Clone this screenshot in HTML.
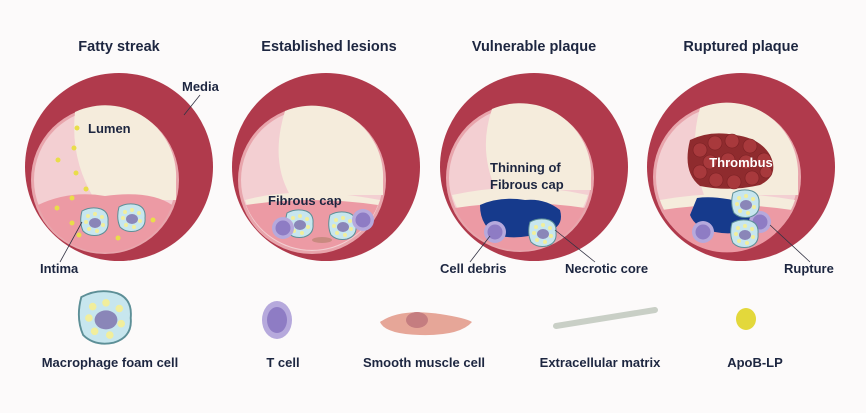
<!DOCTYPE html>
<html><head><meta charset="utf-8"><style>
html,body{margin:0;padding:0;background:#fcfafa;overflow:hidden;width:866px;height:413px}
svg{display:block}
text{font-family:"Liberation Sans",sans-serif;fill:#1d2640;font-weight:bold}
</style></head><body>
<svg width="866" height="413" viewBox="0 0 866 413" xmlns="http://www.w3.org/2000/svg">
<rect width="866" height="413" fill="#fcfafa"/>
<defs>
<g id="foam">
<path d="M-13,-11 Q-4,-16 6,-13 Q14,-10 13,0 Q14,10 4,13 Q-6,15 -12,9 Q-16,0 -13,-11Z" fill="#c7e6ee" stroke="#5d8f97" stroke-width="1"/>
<ellipse cx="0" cy="1" rx="6" ry="5" fill="#8a86b8"/>
<circle cx="-7" cy="-6" r="2" fill="#f1ee9c"/><circle cx="0" cy="-8" r="2" fill="#f1ee9c"/><circle cx="7" cy="-5" r="2" fill="#f1ee9c"/><circle cx="8" cy="3" r="2" fill="#f1ee9c"/><circle cx="2" cy="9" r="2" fill="#f1ee9c"/><circle cx="-6" cy="7" r="2" fill="#f1ee9c"/><circle cx="-9" cy="0" r="2" fill="#f1ee9c"/>
</g>
<g id="tcell"><circle r="11" fill="#b6a9dc"/><circle r="7.5" fill="#8e7cc4"/></g>
</defs>

<text x="119" y="51" font-size="14.5" text-anchor="middle">Fatty streak</text>
<text x="329" y="51" font-size="14.5" text-anchor="middle">Established lesions</text>
<text x="534" y="51" font-size="14.5" text-anchor="middle">Vulnerable plaque</text>
<text x="741" y="51" font-size="14.5" text-anchor="middle">Ruptured plaque</text>

<!-- artery 1 -->
<circle cx="119" cy="167" r="94" fill="#b03a4c"/>
<circle cx="105" cy="180" r="74" fill="#e8a5ac"/>
<circle cx="105" cy="180" r="71" fill="#f3cfd2"/>
<path d="M75,112 A71,71 0 0 1 176,180 L176,200 L95,200 Q70,160 75,112Z" fill="#f5ecdc"/>
<path d="M38,205 Q70,190 105,196 Q150,190 172,205 A71,71 0 0 1 38,205Z" fill="#ec9aa4"/>
<use href="#foam" x="95" y="222"/><use href="#foam" x="132" y="218"/>
<g fill="#e9dd4a"><circle cx="77" cy="128" r="2.5"/><circle cx="74" cy="148" r="2.5"/><circle cx="58" cy="160" r="2.5"/><circle cx="76" cy="173" r="2.5"/><circle cx="86" cy="189" r="2.5"/><circle cx="72" cy="198" r="2.5"/><circle cx="57" cy="208" r="2.5"/><circle cx="72" cy="223" r="2.5"/><circle cx="79" cy="235" r="2.5"/><circle cx="118" cy="238" r="2.5"/><circle cx="153" cy="220" r="2.5"/></g>
<text x="88" y="133" font-size="13">Lumen</text>
<text x="182" y="91" font-size="13">Media</text>
<line x1="200" y1="95" x2="184" y2="115" stroke="#334" stroke-width=".8"/>
<text x="40" y="273" font-size="13">Intima</text>
<line x1="60" y1="262" x2="82" y2="222" stroke="#334" stroke-width=".8"/>

<!-- artery 2 -->
<circle cx="326" cy="167" r="94" fill="#b03a4c"/>
<circle cx="312" cy="180" r="74" fill="#e8a5ac"/>
<circle cx="312" cy="180" r="71" fill="#f3cfd2"/>
<path d="M285,111 A71,71 0 0 1 383,180 L383,195 L290,195 Q270,160 285,111Z" fill="#f5ecdc"/>
<path d="M245,200 Q300,185 380,200 A71,71 0 0 1 245,200Z" fill="#f5ecdc"/>
<path d="M246,205 Q310,195 378,205 A71,71 0 0 1 246,205Z" fill="#ec9aa4"/>
<use href="#foam" x="300" y="224"/><use href="#foam" x="343" y="226"/>
<use href="#tcell" x="283" y="228"/><use href="#tcell" x="363" y="220"/>
<ellipse cx="322" cy="240" rx="10" ry="3" fill="#c98a80"/>
<text x="268" y="205" font-size="13">Fibrous cap</text>

<!-- artery 3 -->
<circle cx="534" cy="167" r="94" fill="#b03a4c"/>
<circle cx="520" cy="178" r="74" fill="#e8a5ac"/>
<circle cx="520" cy="178" r="71" fill="#f3cfd2"/>
<path d="M492,109 A71,71 0 0 1 591,178 L591,190 L496,190 Q478,150 492,109Z" fill="#f5ecdc"/>
<path d="M452,195 Q520,180 588,195 A71,71 0 0 1 452,195Z" fill="#f5ecdc"/>
<path d="M455,208 Q520,198 585,208 A71,71 0 0 1 455,208Z" fill="#ec9aa4"/>
<path d="M480,205 Q500,196 525,200 Q545,198 560,210 Q565,228 545,232 Q520,240 500,236 Q480,228 480,205Z" fill="#163a8c"/>
<use href="#tcell" x="495" y="232"/><use href="#foam" x="543" y="233"/>
<text x="490" y="172" font-size="13">Thinning of</text>
<text x="490" y="189" font-size="13">Fibrous cap</text>
<text x="440" y="273" font-size="13">Cell debris</text>
<line x1="470" y1="262" x2="490" y2="236" stroke="#334" stroke-width=".8"/>
<text x="565" y="273" font-size="13">Necrotic core</text>
<line x1="595" y1="262" x2="555" y2="230" stroke="#334" stroke-width=".8"/>

<!-- artery 4 -->
<circle cx="741" cy="167" r="94" fill="#b03a4c"/>
<circle cx="727" cy="177" r="74" fill="#e8a5ac"/>
<circle cx="727" cy="177" r="71" fill="#f3cfd2"/>
<path d="M700,108 A71,71 0 0 1 798,177 L798,195 L704,195 Q688,150 700,108Z" fill="#f5ecdc"/>
<path d="M660,200 Q727,188 795,200 A71,71 0 0 1 660,200Z" fill="#f5ecdc"/>
<path d="M662,210 Q727,200 792,210 A71,71 0 0 1 662,210Z" fill="#ec9aa4"/>
<path d="M690,140 Q710,130 735,135 Q760,138 770,155 Q780,175 760,185 Q730,192 700,186 Q682,172 690,140Z" fill="#8f2b2e"/>
<g fill="#a8393c" stroke="#7a2024" stroke-width=".6">
<circle cx="700" cy="150" r="7"/><circle cx="715" cy="143" r="7"/><circle cx="732" cy="141" r="7"/><circle cx="750" cy="146" r="7"/><circle cx="764" cy="160" r="7"/><circle cx="700" cy="172" r="7"/><circle cx="716" cy="180" r="7"/><circle cx="734" cy="182" r="7"/><circle cx="752" cy="178" r="7"/><circle cx="766" cy="172" r="6"/>
<circle cx="710" cy="162" r="7"/><circle cx="728" cy="160" r="7"/><circle cx="746" cy="162" r="7"/>
</g>
<path d="M697,198 Q720,195 750,205 Q760,215 752,228 Q735,236 715,232 Q695,228 690,215Z" fill="#163a8c"/>
<use href="#tcell" x="703" y="232"/><use href="#tcell" x="760" y="222"/><use href="#foam" x="746" y="204"/><use href="#foam" x="745" y="234"/>
<text x="741" y="167" font-size="13" text-anchor="middle" style="fill:#fff">Thrombus</text>
<text x="784" y="273" font-size="13">Rupture</text>
<line x1="810" y1="262" x2="770" y2="225" stroke="#334" stroke-width=".8"/>

<!-- legend -->
<g transform="translate(106 318) scale(1.9)"><use href="#foam"/></g>
<ellipse cx="277" cy="320" rx="15" ry="19" fill="#b6a9dc"/>
<ellipse cx="277" cy="320" rx="10" ry="13" fill="#8e7cc4"/>
<path d="M380,322 Q400,308 440,314 Q466,318 472,322 Q460,336 420,335 Q385,334 380,322Z" fill="#e6a698"/>
<ellipse cx="417" cy="320" rx="11" ry="8" fill="#c57d80"/>
<line x1="556" y1="326" x2="655" y2="310" stroke="#c9cfc6" stroke-width="6" stroke-linecap="round"/>
<ellipse cx="746" cy="319" rx="10" ry="11" fill="#e3d83b"/>
<text x="110" y="367" font-size="13" text-anchor="middle">Macrophage foam cell</text>
<text x="283" y="367" font-size="13" text-anchor="middle">T cell</text>
<text x="424" y="367" font-size="13" text-anchor="middle">Smooth muscle cell</text>
<text x="600" y="367" font-size="13" text-anchor="middle">Extracellular matrix</text>
<text x="755" y="367" font-size="13" text-anchor="middle">ApoB-LP</text>
</svg>
</body></html>
